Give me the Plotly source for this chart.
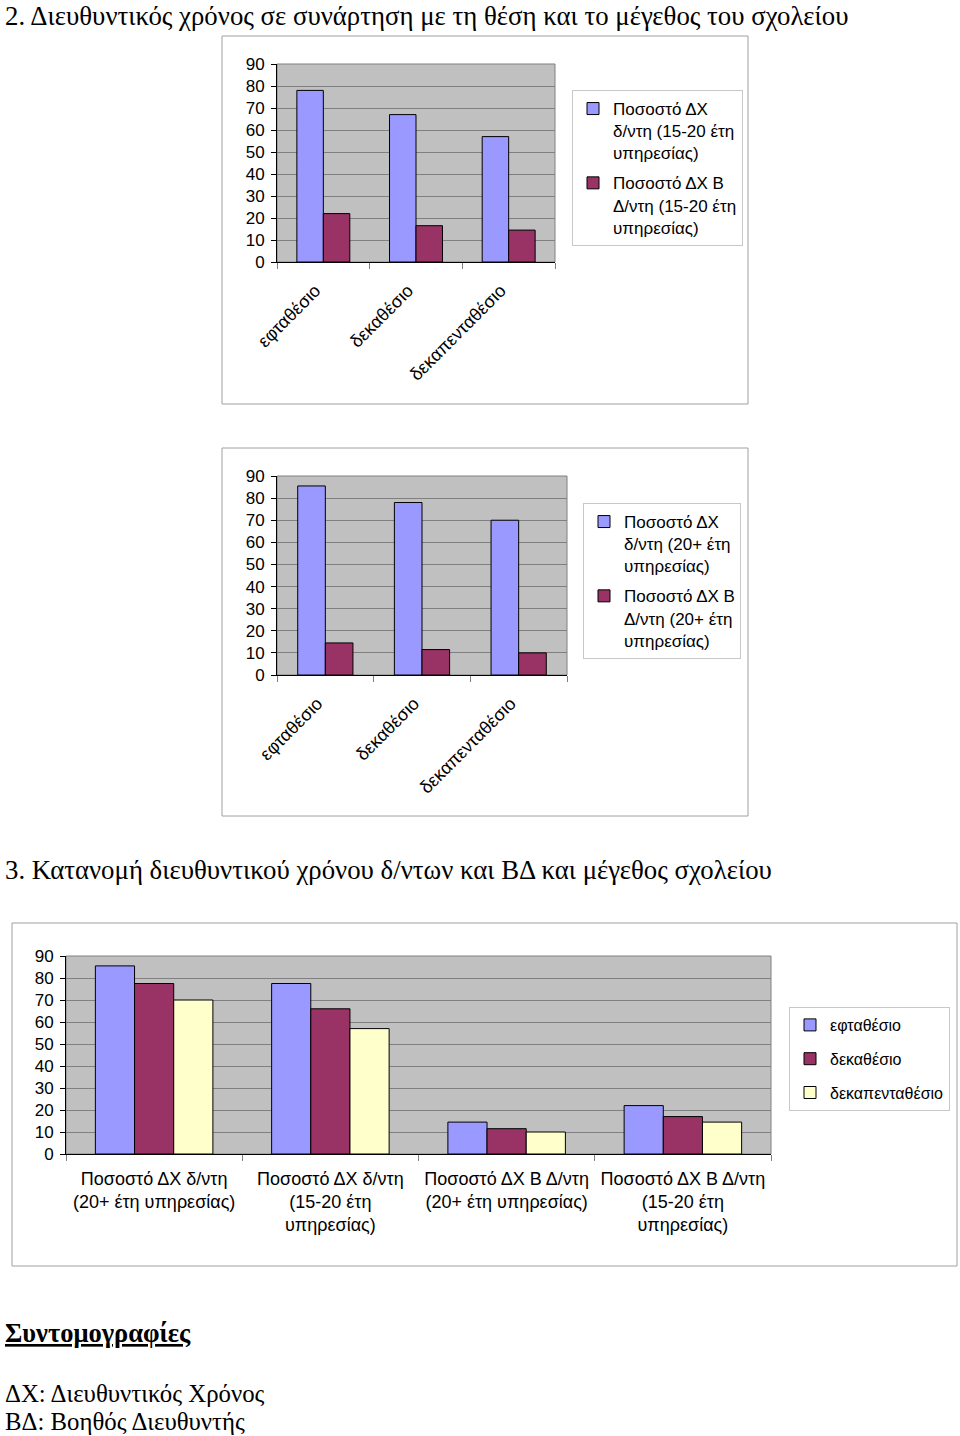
import plotly.graph_objects as go

W, H = 960, 1436

# ---------------- data ----------------
sizes = ["εφταθέσιο", "δεκαθέσιο", "δεκαπενταθέσιο"]

c1_names = ["Ποσοστό ΔΧ<br>δ/ντη (15-20 έτη<br>υπηρεσίας)",
            "Ποσοστό ΔΧ Β<br>Δ/ντη (15-20 έτη<br>υπηρεσίας)"]
c1_dx = [78, 67, 57]
c1_bd = [22, 16.5, 14.5]

c2_names = ["Ποσοστό ΔΧ<br>δ/ντη (20+ έτη<br>υπηρεσίας)",
            "Ποσοστό ΔΧ Β<br>Δ/ντη (20+ έτη<br>υπηρεσίας)"]
c2_dx = [85.5, 78, 70]
c2_bd = [14.5, 11.5, 10]

c3_categories = ["Ποσοστό ΔΧ δ/ντη<br>(20+ έτη υπηρεσίας)",
                 "Ποσοστό ΔΧ δ/ντη<br>(15-20 έτη<br>υπηρεσίας)",
                 "Ποσοστό ΔΧ Β Δ/ντη<br>(20+ έτη υπηρεσίας)",
                 "Ποσοστό ΔΧ Β Δ/ντη<br>(15-20 έτη<br>υπηρεσίας)"]
c3_seven = [85.5, 77.5, 14.5, 22]
c3_ten = [77.5, 66, 11.5, 17]
c3_fifteen = [70, 57, 10, 14.5]

y_ticks = [0, 10, 20, 30, 40, 50, 60, 70, 80, 90]

# ---------------- styles ----------------
BLUE, PURPLE, YELLOW = "#9999FF", "#993366", "#FFFFCC"
SANS = "Liberation Sans, Arial, sans-serif"
SERIF = "Liberation Serif, Times New Roman, serif"
GRID = "#808080"
PLOTBG = "#C0C0C0"
FRAME = "#A0A0A0"


def fx(p):
    return p / W


def fy(p):
    return 1 - p / H


fig = go.Figure()

# chart 1
bw2 = 1 / 3.5
fig.add_trace(go.Bar(x=sizes, y=c1_dx, name=c1_names[0], marker=dict(color=BLUE, line=dict(color="black", width=1)),
                     width=bw2, offset=-bw2, xaxis="x", yaxis="y", legend="legend", legendgroup="a1"))
fig.add_trace(go.Bar(x=sizes, y=c1_bd, name=c1_names[1], marker=dict(color=PURPLE, line=dict(color="black", width=1)),
                     width=bw2, offset=0, xaxis="x", yaxis="y", legend="legend", legendgroup="b1"))
# chart 2
fig.add_trace(go.Bar(x=sizes, y=c2_dx, name=c2_names[0], marker=dict(color=BLUE, line=dict(color="black", width=1)),
                     width=bw2, offset=-bw2, xaxis="x2", yaxis="y2", legend="legend2", legendgroup="a2"))
fig.add_trace(go.Bar(x=sizes, y=c2_bd, name=c2_names[1], marker=dict(color=PURPLE, line=dict(color="black", width=1)),
                     width=bw2, offset=0, xaxis="x2", yaxis="y2", legend="legend2", legendgroup="b2"))
# chart 3
bw3 = 1 / 4.5
for vals, nm, col, k in [(c3_seven, sizes[0], BLUE, 0), (c3_ten, sizes[1], PURPLE, 1),
                         (c3_fifteen, sizes[2], YELLOW, 2)]:
    fig.add_trace(go.Bar(x=c3_categories, y=vals, name=nm,
                         marker=dict(color=col, line=dict(color="black", width=1)),
                         width=bw3, offset=-1.5 * bw3 + k * bw3, xaxis="x3", yaxis="y3",
                         legend="legend3", legendgroup="c3%d" % k))


def xax(l, r, anchor, angle, size, standoff, shift):
    return dict(domain=[fx(l), fx(r)], anchor=anchor, type="category", tickson="boundaries",
                ticks="outside", ticklen=6, tickcolor="#808080", showline=True, linecolor="#000000",
                linewidth=1, showgrid=False, tickangle=angle, fixedrange=True, automargin=False,
                ticklabelstandoff=standoff, ticklabelshift=shift,
                tickfont=dict(family=SANS, size=size, color="black"))


def yax(top, bot, anchor, size):
    return dict(domain=[fy(bot), fy(top)], anchor=anchor, range=[0, 90], tickvals=y_ticks,
                ticks="outside", ticklen=5, tickcolor="#000000", showline=True, linecolor="#000000",
                linewidth=1, showgrid=True, gridcolor=GRID, gridwidth=1, zeroline=False,
                fixedrange=True, ticklabelstandoff=3, automargin=False,
                tickfont=dict(family=SANS, size=size, color="black"))


def leg(l, t, size, gap):
    return dict(x=fx(l), y=fy(t), xanchor="left", yanchor="top", bgcolor="white",
                bordercolor="#C8C8C8", borderwidth=1, valign="top", traceorder="grouped",
                tracegroupgap=gap, itemwidth=30, font=dict(family=SANS, size=size, color="black"),
                itemclick=False, itemdoubleclick=False)


shapes = []
for (l, t, r, b) in [(222, 36, 748, 404), (222, 448, 748, 816), (12, 923, 957, 1266)]:
    shapes.append(dict(type="rect", xref="paper", yref="paper", x0=fx(l), x1=fx(r), y0=fy(b), y1=fy(t),
                       line=dict(color=FRAME, width=1), fillcolor="rgba(0,0,0,0)", layer="below"))
# grey plot-area backgrounds with border
for (l, t, r, b) in [(277, 64, 555, 262), (277, 476, 567, 675), (66, 956, 771, 1154)]:
    shapes.append(dict(type="rect", xref="paper", yref="paper", x0=fx(l), x1=fx(r), y0=fy(b), y1=fy(t),
                       line=dict(color=GRID, width=1), fillcolor=PLOTBG, layer="below"))


def text(t, x, y, size):
    return dict(text=t, x=fx(x), y=fy(y), xref="paper", yref="paper", xanchor="left", yanchor="middle",
                showarrow=False, font=dict(family=SERIF, size=size, color="black"))


annotations = [
    text("2. Διευθυντικός χρόνος σε συνάρτηση με τη θέση και το μέγεθος του σχολείου", 3, 16, 26.8),
    text("3. Κατανομή διευθυντικού χρόνου δ/ντων και ΒΔ και μέγεθος σχολείου", 3, 870, 26.8),
    text("<b><u>Συντομογραφίες</u></b>", 3, 1333, 26.5),
    text("ΔΧ: Διευθυντικός Χρόνος", 3, 1393, 24.8),
    text("ΒΔ: Βοηθός Διευθυντής", 3, 1421, 24.8),
]

fig.update_layout(
    width=W, height=H, autosize=False,
    margin=dict(l=0, r=0, t=0, b=0, pad=0, autoexpand=False),
    paper_bgcolor="white", plot_bgcolor="rgba(0,0,0,0)",
    barmode="overlay",
    xaxis=xax(277, 555, "y", -45, 18, 10, -8),
    yaxis=yax(64, 262, "x", 17),
    xaxis2=xax(277, 567, "y2", -45, 18, 10, -8),
    yaxis2=yax(476, 675, "x2", 17),
    xaxis3=xax(66, 771, "y3", 0, 18, 8, 0),
    yaxis3=yax(956, 1154, "x3", 17),
    legend=leg(572, 90, 17, 5),
    legend2=leg(583, 503, 17, 5),
    legend3=leg(789, 1007, 16, 10),
    shapes=shapes,
    annotations=annotations,
    showlegend=True,
)

fig.write_html("out.html", config={"displayModeBar": False, "staticPlot": True},
               post_script="document.body.style.margin='0';")
